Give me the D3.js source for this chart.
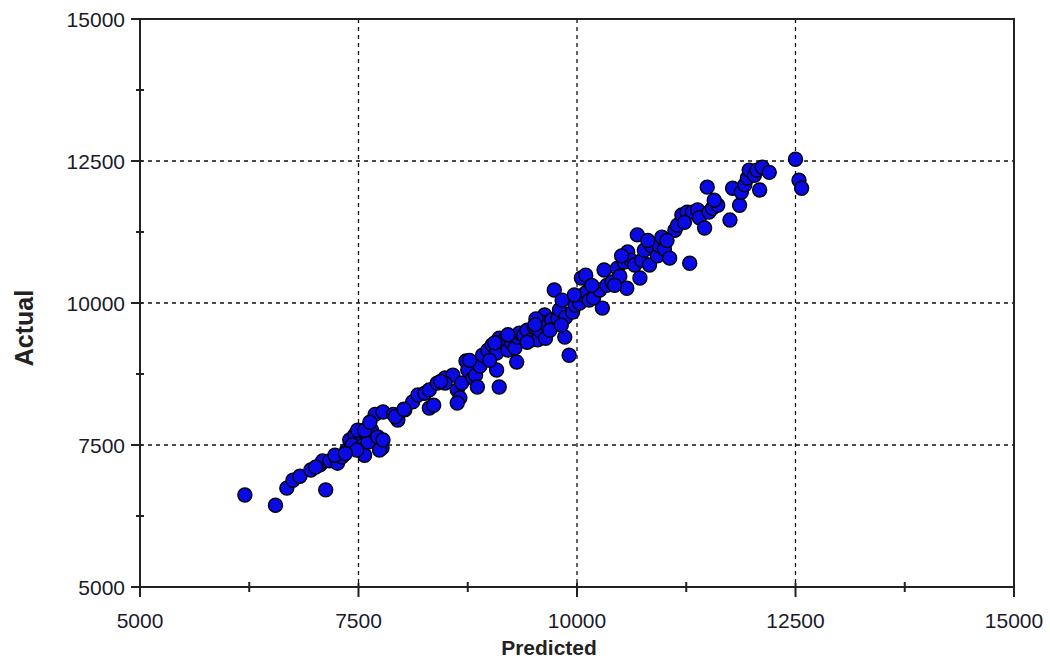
<!DOCTYPE html>
<html>
<head>
<meta charset="utf-8">
<script src="https://cdn.jsdelivr.net/npm/d3@7"></script>
<style>
  body { margin: 0; background: #fff; }
  svg { display: block; font-family: Arial, "Liberation Sans", sans-serif; }
</style>
</head>
<body>
<div id="container"></div>
<script>
let w = 1050;
let h = 658;

// predicted / actual pairs
let predicted = [6200,6550,6680,6750,6830,6955,7060,7125,7090,7170,7260,7310,7365,7400,7460,7490,7430,7540,7570,7610,
  7650,7690,7720,7780,7770,7740,7780,7480,7950,8030,8120,8180,8260,8310,8360,8310,8400,8490,8580,8630,
  8660,8680,8730,8750,8810,8840,8860,8890,8920,8980,9030,9080,9110,9080,9110,9170,9210,9250,9290,9320,
  9340,9310,9390,9430,9480,9510,9550,9570,9630,9660,9600,9640,9710,9740,9780,9800,9830,9870,9860,9910,
  9950,9980,10030,10070,10110,10050,10100,10140,10190,10260,10290,10340,10310,10400,10460,10490,10540,10580,10570,10620,
  10660,10690,10720,10740,10770,10830,10850,10920,10940,11000,10970,11060,11120,11150,11200,11260,11290,11320,11380,11400,
  11460,11490,11510,11550,11610,11750,11780,11860,11880,11920,11950,11970,12030,12060,12090,12120,12200,12500,12540,12570,
  9690,9530,9430,9210,9000,8770,8490,7570,7630,7230,7010,9970,10170,10430,10510,10810,11030,11570,11230,9820,
  8630,8440,9060,7350,7900,7920,8020,9520];
let actual = [6620,6440,6740,6880,6950,7060,7150,6710,7220,7220,7180,7290,7410,7590,7680,7760,7500,7480,7320,7550,
  7760,8040,7640,8080,7450,7410,7590,7410,7940,8120,8260,8380,8410,8150,8200,8470,8590,8680,8730,8470,
  8330,8590,8980,8820,8680,8730,8520,8890,9080,9170,9260,9120,8520,8820,9380,9350,9170,9300,9210,9400,
  9470,8960,9430,9520,9350,9580,9350,9520,9790,9610,9660,9380,9700,10230,9730,9880,10050,9750,9400,9080,
  9840,9960,10000,10140,10190,10440,10490,10050,10090,10230,9910,10310,10580,10370,10610,10470,10720,10900,10260,10750,
  10670,11200,10440,10750,10930,10670,11010,10830,11010,10950,11160,10790,11280,11370,11550,11600,10700,11600,11640,11500,
  11320,12040,11600,11670,11720,11460,12020,11720,11950,12080,12200,12340,12250,12340,11990,12390,12300,12530,12160,12020,
  9520,9720,9310,9440,8990,8990,8590,7760,7900,7320,7110,10140,10310,10310,10830,11100,11100,11810,11420,9610,
  8240,8620,9300,7350,8040,8000,8130,9620];

let majorTicks = [5000,7500,10000,12500,15000];
let minorTicks = [6250,8750,11250,13750];
let gridTicks = [7500,10000,12500];

let margin = {left: 140, right: 36, top: 19, bottom: 71};

let viz = d3.select("#container").append("svg")
    .attr("width", w)
    .attr("height", h)
;

let x = d3.scaleLinear().domain([5000,15000]).range([margin.left, w - margin.right]);
let y = d3.scaleLinear().domain([5000,15000]).range([h - margin.bottom, margin.top]);

// dashed grid
viz.selectAll(".vgrid").data(gridTicks).enter()
    .append("line")
    .attr("class","vgrid")
    .attr("x1", d => x(d)).attr("x2", d => x(d))
    .attr("y1", y(15000)).attr("y2", y(5000))
    .attr("stroke","#111")
    .attr("stroke-width",1.3)
    .attr("stroke-dasharray","4,4")
;
viz.selectAll(".hgrid").data(gridTicks).enter()
    .append("line")
    .attr("class","hgrid")
    .attr("x1", x(5000)).attr("x2", x(15000))
    .attr("y1", d => y(d)).attr("y2", d => y(d))
    .attr("stroke","#111")
    .attr("stroke-width",1.3)
    .attr("stroke-dasharray","4,4")
;

// frame
viz.append("rect")
    .attr("x", x(5000)).attr("y", y(15000))
    .attr("width", x(15000) - x(5000))
    .attr("height", y(5000) - y(15000))
    .attr("fill","none")
    .attr("stroke","#222")
    .attr("stroke-width",2)
;

// ticks on bottom axis
viz.selectAll(".xmaj").data(majorTicks).enter()
    .append("line")
    .attr("x1", d => x(d)).attr("x2", d => x(d))
    .attr("y1", y(5000) - 4).attr("y2", y(5000) + 10)
    .attr("stroke","#222").attr("stroke-width",2);
viz.selectAll(".xmin").data(minorTicks).enter()
    .append("line")
    .attr("x1", d => x(d)).attr("x2", d => x(d))
    .attr("y1", y(5000) - 5).attr("y2", y(5000) + 5)
    .attr("stroke","#222").attr("stroke-width",2);
// ticks on left axis
viz.selectAll(".ymaj").data(majorTicks).enter()
    .append("line")
    .attr("x1", x(5000) - 9).attr("x2", x(5000) + 3)
    .attr("y1", d => y(d)).attr("y2", d => y(d))
    .attr("stroke","#222").attr("stroke-width",2);
viz.selectAll(".ymin").data(minorTicks).enter()
    .append("line")
    .attr("x1", x(5000) - 4).attr("x2", x(5000) + 4)
    .attr("y1", d => y(d)).attr("y2", d => y(d))
    .attr("stroke","#222").attr("stroke-width",2);

// tick labels
viz.selectAll(".xlab").data(majorTicks).enter()
    .append("text")
    .attr("x", d => x(d))
    .attr("y", y(5000) + 41)
    .attr("text-anchor","middle")
    .attr("font-size",21)
    .attr("fill","#1a1a2a")
    .text(d => d);
viz.selectAll(".ylab").data(majorTicks).enter()
    .append("text")
    .attr("x", x(5000) - 15)
    .attr("y", d => y(d) + 8)
    .attr("text-anchor","end")
    .attr("font-size",21)
    .attr("fill","#1a1a2a")
    .text(d => d);

// axis titles
viz.append("text")
    .attr("x", 549)
    .attr("y", 655)
    .attr("text-anchor","middle")
    .attr("font-size",21)
    .attr("font-weight","bold")
    .attr("fill","#222")
    .text("Predicted");
viz.append("text")
    .attr("transform","translate(33,328) rotate(-90)")
    .attr("text-anchor","middle")
    .attr("font-size",25)
    .attr("font-weight","bold")
    .attr("fill","#222")
    .text("Actual");

// points
let pts = predicted.map((p,i) => [p, actual[i]]);
viz.selectAll(".pt").data(pts).enter()
    .append("circle")
    .attr("class","pt")
    .attr("cx", d => x(d[0]))
    .attr("cy", d => y(d[1]))
    .attr("r", 7)
    .attr("fill","#0a0ae6")
    .attr("stroke","#000")
    .attr("stroke-width",1.4)
;
</script>
</body>
</html>
